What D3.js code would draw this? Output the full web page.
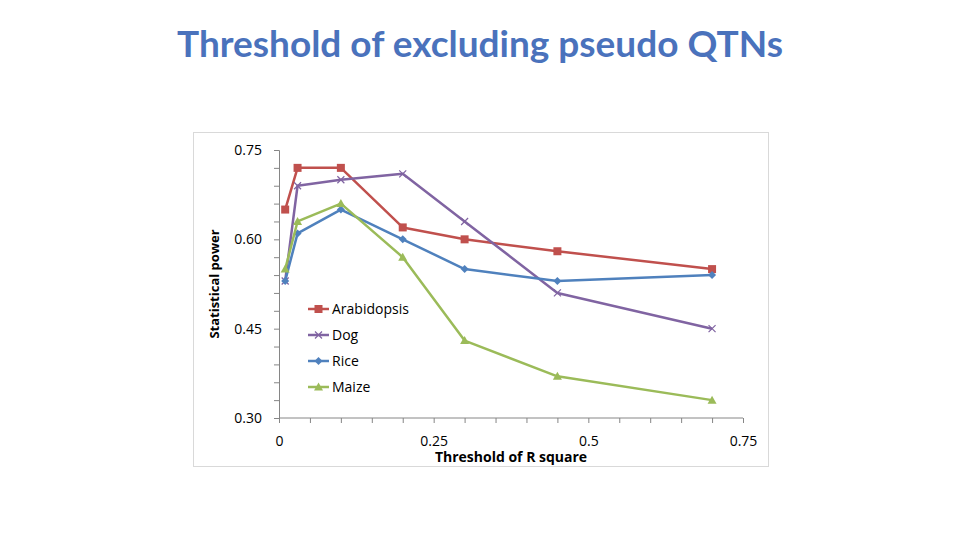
<!DOCTYPE html>
<html><head><meta charset="utf-8">
<script src="https://cdn.jsdelivr.net/npm/d3@7"></script>
<style>body{margin:0;background:#fff;}svg{display:block;}</style>
</head><body>
<svg id="chart" width="960" height="540"></svg>
<script>
const thresholds = [0.01, 0.03, 0.1, 0.2, 0.3, 0.45, 0.7];
const arabidopsis = [0.65, 0.72, 0.72, 0.62, 0.60, 0.58, 0.55];
const dog = [0.53, 0.69, 0.70, 0.71, 0.63, 0.51, 0.45];
const rice = [0.53, 0.61, 0.65, 0.60, 0.55, 0.53, 0.54];
const maize = [0.55, 0.63, 0.66, 0.57, 0.43, 0.37, 0.33];
const seriesNames = ["Arabidopsis", "Dog", "Rice", "Maize"];
const xTicks = [0, 0.25, 0.5, 0.75];
const yTicks = [0.30, 0.45, 0.60, 0.75];
const titleText = "Threshold of excluding pseudo QTNs";
const xTitle = "Threshold of R square";
const yTitle = "Statistical power";

const colors = ["#C0504D", "#8064A2", "#4F81BD", "#9BBB59"];
const symbols = ["square", "x", "diamond", "triangle"];
const seriesValues = [arabidopsis, dog, rice, maize];

const svg = d3.select("#chart");
svg.append("text").attr("x", 480).attr("y", 57).attr("text-anchor", "middle")
  .attr("font-family", "Lato, 'Open Sans', sans-serif").attr("font-weight", "bold")
  .attr("font-size", 37).attr("fill", "#4A72BC").text(titleText);

// chart frame
svg.append("rect").attr("x", 193.5).attr("y", 132.5).attr("width", 575).attr("height", 334)
  .attr("fill", "#fff").attr("stroke", "#D9D9D9");

const x = d3.scaleLinear().domain([0, 0.75]).range([279, 743]);
const y = d3.scaleLinear().domain([0.30, 0.75]).range([418, 150]);

const fontAxis = "'Open Sans', sans-serif";
// y axis
const yAxis = d3.axisLeft(y).tickValues(d3.range(0.30, 0.7501, 0.03)).tickSize(5)
  .tickFormat(d => yTicks.some(t => Math.abs(t - d) < 1e-6) ? d3.format(".2f")(d) : "");
const gy = svg.append("g").attr("transform", "translate(279,0)").call(yAxis);
gy.select(".domain").attr("stroke", "#868686");
gy.selectAll(".tick line").attr("stroke", "#868686");
gy.selectAll(".tick text").attr("x", -17).attr("font-size", 14).attr("font-family", fontAxis).attr("fill", "#000");

// x axis
const xAxis = d3.axisBottom(x).tickValues(d3.range(0, 0.7501, 0.05)).tickSize(5)
  .tickFormat(d => xTicks.some(t => Math.abs(t - d) < 1e-6) ? (d === 0 ? "0" : String(+d.toFixed(2))) : "");
const gx = svg.append("g").attr("transform", "translate(0,418)").call(xAxis);
gx.select(".domain").attr("stroke", "#868686").attr("d", "M279,0H743");
gx.selectAll(".tick line").attr("stroke", "#868686");
gx.selectAll(".tick text").attr("y", 18).attr("font-size", 14).attr("font-family", fontAxis).attr("fill", "#000");

// axis titles
svg.append("text").attr("transform", "translate(219,284) rotate(-90)").attr("text-anchor", "middle")
  .attr("font-family", fontAxis).attr("font-weight", "bold").attr("font-size", 13).text(yTitle);
svg.append("text").attr("x", 511).attr("y", 462).attr("text-anchor", "middle")
  .attr("font-family", fontAxis).attr("font-weight", "bold").attr("font-size", 14).text(xTitle);

const line = d3.line().x((d, i) => x(thresholds[i])).y(d => y(d));

function marker(g, type, cx, cy, color) {
  if (type === "square") {
    g.append("rect").attr("x", cx - 4).attr("y", cy - 4).attr("width", 8).attr("height", 8).attr("fill", color);
  } else if (type === "x") {
    g.append("path").attr("d", `M${cx-3.5},${cy-3.5}L${cx+3.5},${cy+3.5}M${cx-3.5},${cy+3.5}L${cx+3.5},${cy-3.5}`)
      .attr("stroke", color).attr("stroke-width", 1.2);
  } else if (type === "diamond") {
    g.append("path").attr("d", `M${cx},${cy-4}L${cx+4},${cy}L${cx},${cy+4}L${cx-4},${cy}Z`).attr("fill", color);
  } else {
    g.append("path").attr("d", `M${cx},${cy-4.5}L${cx+4.5},${cy+3.5}L${cx-4.5},${cy+3.5}Z`).attr("fill", color);
  }
}

seriesValues.forEach((vals, s) => {
  const g = svg.append("g");
  g.append("path").datum(vals).attr("d", line).attr("fill", "none")
    .attr("stroke", colors[s]).attr("stroke-width", 2.5).attr("stroke-linejoin", "round");
  vals.forEach((v, i) => marker(g, symbols[s], x(thresholds[i]), y(v), colors[s]));
});

// legend
const legendY = d3.scalePoint().domain(seriesNames).range([309, 387]);
seriesNames.forEach((name, s) => {
  const ly = legendY(name);
  const g = svg.append("g");
  g.append("line").attr("x1", 308).attr("x2", 329).attr("y1", ly).attr("y2", ly)
    .attr("stroke", colors[s]).attr("stroke-width", 2.5);
  marker(g, symbols[s], 318.5, ly, colors[s]);
  g.append("text").attr("x", 332).attr("y", ly + 5).attr("font-family", fontAxis)
    .attr("font-size", 14).attr("fill", "#000").text(name);
});
</script>
</body></html>
